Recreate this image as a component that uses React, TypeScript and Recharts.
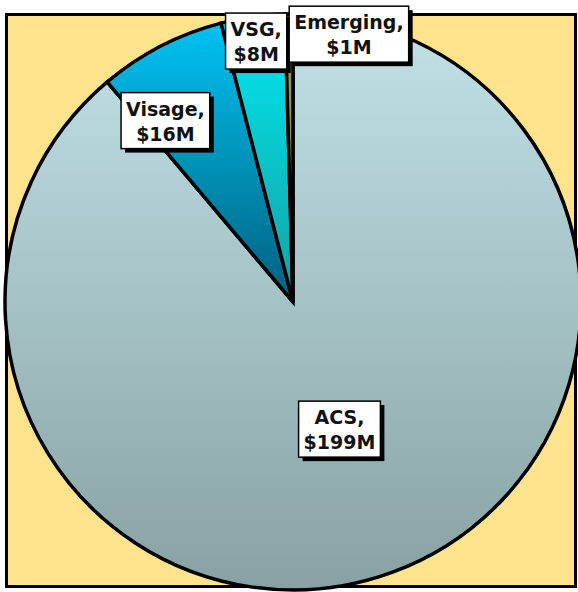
import { Cell, Pie, PieChart } from 'recharts';

const segments = ['ACS', 'Visage', 'VSG', 'Emerging'];
const revenue = [199, 16, 8, 1];
const valueLabels = ['$199M', '$16M', '$8M', '$1M'];

const fills = ['url(#gradAcs)', 'url(#gradVisage)', 'url(#gradVsg)', '#8c9a3c'];

// label distance (fraction of radius) and angle nudge (deg) per slice
const labelPlacement: Record<string, { r: number; turn: number }> = {
  ACS: { r: 0.47, turn: 0 },
  Visage: { r: 0.77, turn: 7.8 },
  VSG: { r: 0.915, turn: 0 },
  Emerging: { r: 0.95, turn: -12.6 },
};

const data = segments.map((name, i) => ({ name, value: revenue[i], money: valueLabels[i] }));

const RADIAN = Math.PI / 180;
const FONT_SIZE = 19;
const FONT = `bold ${FONT_SIZE}px "DejaVu Sans", Verdana, sans-serif`;

let ctx: CanvasRenderingContext2D | null = null;
const textWidth = (s: string) => {
  if (!ctx) ctx = document.createElement('canvas').getContext('2d');
  if (!ctx) return s.length * 12;
  ctx.font = FONT;
  return ctx.measureText(s).width;
};

const renderLabel = (props: any) => {
  const { cx, cy, midAngle, outerRadius, index } = props;
  const item = data[index];
  const place = labelPlacement[item.name];
  const ang = (midAngle + place.turn) * RADIAN;
  const x = cx + outerRadius * place.r * Math.cos(-ang);
  const y = cy + outerRadius * place.r * Math.sin(-ang);
  const line1 = item.name + ',';
  const line2 = item.money;
  const w = Math.max(textWidth(line1), textWidth(line2)) + 10;
  const h = 56;
  return (
    <g key={`lbl-${index}`}>
      <rect x={x - w / 2 + 4} y={y - h / 2 + 4} width={w} height={h} fill="#000" />
      <rect x={x - w / 2} y={y - h / 2} width={w} height={h} fill="#fff" stroke="#000" strokeWidth={1.5} />
      <text
        x={x}
        y={y - 5}
        textAnchor="middle"
        fontFamily='"DejaVu Sans", Verdana, sans-serif'
        fontWeight="bold"
        fontSize={FONT_SIZE}
        fill="#111"
      >
        {line1}
      </text>
      <text
        x={x}
        y={y + 20}
        textAnchor="middle"
        fontFamily='"DejaVu Sans", Verdana, sans-serif'
        fontWeight="bold"
        fontSize={FONT_SIZE}
        fill="#111"
      >
        {line2}
      </text>
    </g>
  );
};

const App = () => {
  return (
    <div style={{ position: 'absolute', left: 0, top: 0, width: 578, height: 592, background: '#fff' }}>
      <div
        style={{
          position: 'absolute',
          left: 5,
          top: 13,
          width: 566,
          height: 569,
          background: '#fde38b',
          border: '3px solid #000',
        }}
      />
      <PieChart width={578} height={592} margin={{ top: 0, right: 0, bottom: 0, left: 0 }} style={{ position: 'absolute', left: 0, top: 0 }}>
        <defs>
          <linearGradient id="gradAcs" x1="0" y1="0" x2="0" y2="1">
            <stop offset="0%" stopColor="#c2e2e8" />
            <stop offset="100%" stopColor="#88a2a3" />
          </linearGradient>
          <linearGradient id="gradVisage" x1="0" y1="0" x2="0" y2="1">
            <stop offset="0%" stopColor="#00c3f2" />
            <stop offset="100%" stopColor="#00607e" />
          </linearGradient>
          <linearGradient id="gradVsg" x1="0" y1="0" x2="0" y2="1">
            <stop offset="0%" stopColor="#00eaf0" />
            <stop offset="100%" stopColor="#14a0a4" />
          </linearGradient>
        </defs>
        <Pie
          data={data}
          dataKey="value"
          nameKey="name"
          cx={293}
          cy={302}
          outerRadius={288}
          startAngle={90}
          endAngle={-270}
          stroke="#000"
          strokeWidth={3.5}
          label={renderLabel}
          labelLine={false}
          isAnimationActive={false}
        >
          {data.map((d, i) => (
            <Cell key={d.name} fill={fills[i]} />
          ))}
        </Pie>
      </PieChart>
    </div>
  );
};

export default App;
